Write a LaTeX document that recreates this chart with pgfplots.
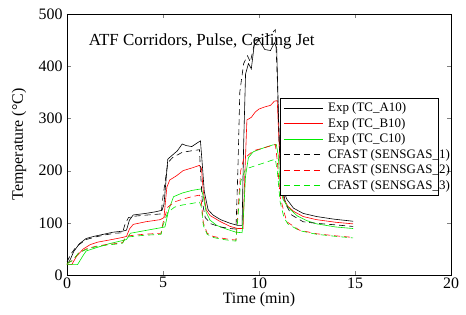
\documentclass[border=0pt]{standalone}
\usepackage{pgfplots}
\pgfplotsset{compat=1.18}
\usepackage{fontspec}
\setmainfont{Liberation Serif}
\definecolor{mgreen}{RGB}{0,235,0}
\definecolor{mred}{RGB}{255,0,0}
\begin{document}
\begin{tikzpicture}
\begin{axis}[
  name=ax, at={(0,0)}, anchor=south west,
  scale only axis, width=384bp, height=261bp,
  xmin=0, xmax=20, ymin=0, ymax=500,
  xtick={0,5,10,15,20}, ytick={0,100,200,300,400,500},
  tick align=inside, major tick length=4bp,
  xtick pos=both, ytick pos=both,
  axis line style={line width=0.8bp},
  /pgf/number format/assume math mode=true,
  every tick label/.append style={font=\fontsize{16}{19}\selectfont},
  xticklabel style={yshift=1bp},
  yticklabel style={xshift=-1bp},
  xlabel={Time (min)}, ylabel={Temperature (°C)},
  label style={font=\fontsize{16}{19}\selectfont},
  xlabel style={at={(axis description cs:0.5,-0.096)}, anchor=center},
  ylabel style={at={(axis description cs:-0.125,0.5)}, anchor=center},
  legend cell align=left,
  legend image code/.code={\draw[#1] (0bp,0bp) -- (39bp,0bp);},
  legend style={at={(axis description cs:0.555,0.678)}, anchor=north west,
    font=\fontsize{13}{14}\selectfont, draw=black, line width=0.8bp,
    inner xsep=3bp, inner ysep=2.5bp, row sep=1bp,
    /tikz/every odd column/.append style={column sep=3bp}},
  every axis plot/.append style={line width=0.6bp},
]
% Exp TC_A10
\addplot[black] coordinates {
(0,20)(0.15,28)(0.35,45)(0.65,60)(1.0,70)(1.4,74)(1.9,78)(2.4,82)(2.9,84)(3.1,86)(3.25,105)(3.45,115)(4.1,118)(4.6,121)(4.95,124)(5.05,135)(5.25,222)(5.5,230)(5.75,238)(6.0,251)(6.2,248)(6.5,246)(6.7,251)(6.95,257)(7.05,210)(7.15,160)(7.35,125)(7.6,115)(8.0,106)(8.5,99)(8.9,95)(9.12,95)(9.2,250)(9.3,385)(9.45,405)(9.6,395)(9.75,440)(10.0,450)(10.3,432)(10.6,430)(10.8,445)(10.92,435)(11.02,300)(11.12,200)(11.25,165)(11.45,145)(11.8,128)(12.3,118)(13.0,112)(13.9,107)(14.9,103)};
% Exp TC_B10
\addplot[mred] coordinates {
(0,20)(0.25,20)(0.5,36)(0.85,50)(1.2,58)(1.6,63)(2.2,67)(2.9,72)(3.1,74)(3.25,88)(3.45,97)(4.1,102)(4.85,106)(5.05,110)(5.2,168)(5.35,182)(5.7,190)(6.05,200)(6.5,205)(6.9,210)(7.0,205)(7.1,160)(7.25,125)(7.45,114)(8.0,102)(8.5,93)(8.9,89)(9.17,89)(9.27,200)(9.37,297)(9.6,302)(9.8,312)(10.0,318)(10.3,322)(10.6,325)(10.8,333)(10.95,334)(11.05,250)(11.15,170)(11.3,145)(11.5,132)(11.8,122)(12.3,112)(13,106)(14,101)(14.9,98)};
% Exp TC_C10
\addplot[mgreen] coordinates {
(0,20)(0.55,20)(0.85,38)(1.0,46)(1.5,52)(2.2,60)(2.9,66)(3.1,68)(3.3,80)(3.9,84)(4.8,90)(5.1,92)(5.3,125)(5.55,150)(6.0,157)(6.5,162)(7.0,165)(7.1,150)(7.25,120)(7.45,105)(7.8,95)(8.3,88)(8.8,82)(9.12,81)(9.2,120)(9.3,190)(9.45,225)(9.7,236)(10.2,243)(10.7,249)(10.9,250)(11.0,230)(11.1,170)(11.25,145)(11.5,130)(12,113)(12.5,104)(13,98)(14,92)(14.9,89)};
% CFAST SENSGAS_1
\addplot[black, dash pattern=on 6bp off 4bp] coordinates {
(0,25)(0.2,40)(0.5,55)(1.0,68)(1.5,73)(2.0,77)(2.5,80)(2.9,81)(3.0,95)(3.2,110)(3.6,113)(4.2,115)(4.9,117)(5.0,150)(5.25,215)(5.5,225)(6.0,235)(6.5,238)(6.9,240)(6.95,200)(7.05,140)(7.2,110)(7.5,98)(8.0,92)(8.5,89)(8.8,88)(8.9,200)(9.0,350)(9.2,405)(9.4,420)(9.55,408)(9.8,450)(10.2,455)(10.6,460)(10.85,470)(10.95,380)(11.05,250)(11.2,170)(11.4,135)(11.7,115)(12.3,102)(13,99)(14,96)(14.9,93)};
% CFAST SENSGAS_2
\addplot[mred, dash pattern=on 6bp off 4bp] coordinates {
(0,22)(0.3,28)(0.6,42)(1.0,50)(1.5,55)(2.0,58)(2.5,60)(2.9,62)(3.0,70)(3.2,75)(4.0,78)(4.9,80)(5.0,100)(5.25,130)(5.6,140)(6.0,145)(6.5,150)(6.9,153)(7.0,140)(7.1,100)(7.3,80)(7.6,74)(8.0,71)(8.5,68)(8.8,67)(8.9,120)(9.05,200)(9.2,222)(9.7,238)(10.2,243)(10.85,250)(10.95,220)(11.1,150)(11.27,125)(11.45,102)(12.1,86)(13,79)(14,75)(14.9,72)};
% CFAST SENSGAS_3
\addplot[mgreen, dash pattern=on 6bp off 4bp] coordinates {
(0,22)(0.3,28)(0.6,42)(1.0,49)(1.5,54)(2.0,57)(2.5,59)(2.9,61)(3.0,68)(3.2,73)(4.0,76)(4.9,78)(5.0,95)(5.25,120)(5.6,130)(6.0,134)(6.5,137)(6.9,140)(7.0,130)(7.1,95)(7.3,78)(7.6,72)(8.0,69)(8.5,66)(8.8,65)(8.9,110)(9.05,180)(9.3,203)(9.7,208)(10.2,214)(10.85,222)(10.95,200)(11.1,140)(11.3,110)(11.5,98)(12.1,85)(13,78)(14,74)(14.9,71)};
\legend{Exp (TC\_A10), Exp (TC\_B10), Exp (TC\_C10),
  \makebox[105bp][l]{CFAST (SENSGAS\_1)},
  \makebox[105bp][l]{CFAST (SENSGAS\_2)},
  \makebox[105bp][l]{CFAST (SENSGAS\_3)}}
\node[anchor=west, font=\fontsize{17}{20}\selectfont] at (axis cs:0.95,448) {ATF Corridors, Pulse, Ceiling Jet};
\end{axis}
\pgfresetboundingbox
\path (-67bp,-40bp) rectangle (399bp,275bp);
\end{tikzpicture}
\end{document}
